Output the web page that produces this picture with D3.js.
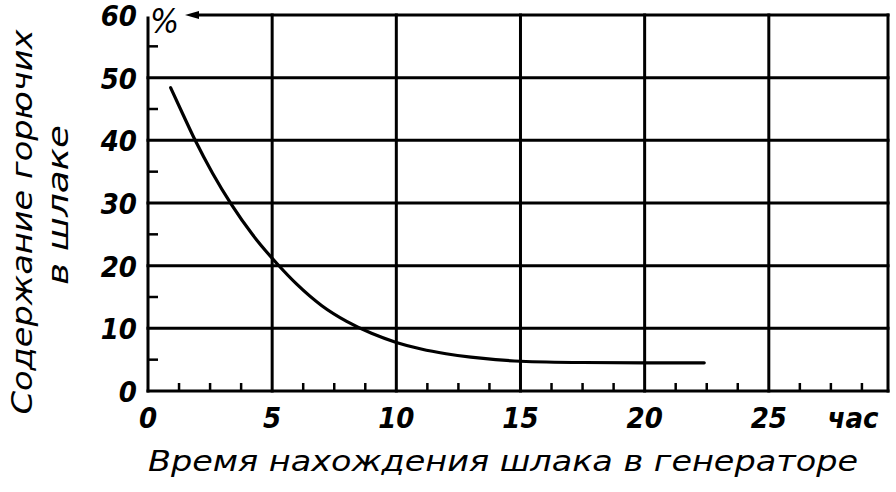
<!DOCTYPE html>
<html>
<head>
<meta charset="utf-8">
<script src="https://cdn.jsdelivr.net/npm/d3@7"></script>
<style>
  body { margin: 0; background: #fff; }
  svg { display: block; }
  .num { font-family: "DejaVu Sans Condensed", "DejaVu Sans", sans-serif; font-weight: bold; font-style: oblique; font-size: 29px; fill: #000; }
  .title { font-family: "DejaVu Sans Condensed", "DejaVu Sans", sans-serif; font-style: oblique; font-size: 29px; fill: #000; }
</style>
</head>
<body>
<script>
// values
var hours  = [0.91, 1.4, 1.9, 2.6, 3.37, 4.2, 5.2, 6, 7, 8, 9, 10, 11, 12, 13, 14, 15, 17.5, 20, 22.4];
var fuel   = [48.4, 44.2, 40, 34.75, 29.7, 25.0, 20.3, 17.0, 13.6, 11.1, 9.2, 7.75, 6.7, 5.95, 5.4, 5.0, 4.75, 4.55, 4.5, 4.5];
var xTicks = [0, 5, 10, 15, 20, 25];
var yTicks = [0, 10, 20, 30, 40, 50, 60];
var xMinor = d3.range(0, 29.8, 1.25);
var yMinor = d3.range(5, 60, 10);

var svg = d3.select("body")
  .append("svg")
    .attr("width", 896)
    .attr("height", 492);

var x = d3.scaleLinear().domain([0, 29.8]).range([148, 888]);
var y = d3.scaleLinear().domain([0, 60]).range([391, 15]);

var ink = "#000";

// grid
var grid = svg.append("g").attr("stroke", ink).attr("stroke-width", 3).attr("stroke-linecap", "square");
grid.selectAll(".v")
    .data(xTicks.slice(1).concat([29.8]))
  .enter().append("line")
    .attr("x1", function(d) { return x(d); })
    .attr("x2", function(d) { return x(d); })
    .attr("y1", y(60))
    .attr("y2", y(0));
grid.selectAll(".h")
    .data(yTicks.slice(1, 6))
  .enter().append("line")
    .attr("x1", x(0))
    .attr("x2", x(29.8))
    .attr("y1", function(d) { return y(d); })
    .attr("y2", function(d) { return y(d); });

// top line with left arrow
grid.append("line")
    .attr("x1", 196).attr("x2", x(29.8))
    .attr("y1", y(60)).attr("y2", y(60));
svg.append("path")
    .attr("d", "M185," + y(60) + "L199," + (y(60) - 4) + "L199," + (y(60) + 4) + "Z")
    .attr("fill", ink);

// axes lines
grid.append("line").attr("x1", x(0)).attr("x2", x(0)).attr("y1", 18).attr("y2", y(0));
grid.append("line").attr("x1", x(0)).attr("x2", x(29.8)).attr("y1", y(0)).attr("y2", y(0));

// minor ticks
var minor = svg.append("g").attr("stroke", ink).attr("stroke-width", 2.5);
minor.selectAll(".mx")
    .data(xMinor.filter(function(d) { return d % 5 !== 0; }))
  .enter().append("line")
    .attr("x1", function(d) { return x(d); })
    .attr("x2", function(d) { return x(d); })
    .attr("y1", y(0))
    .attr("y2", y(0) - 8);
minor.selectAll(".my")
    .data(yMinor)
  .enter().append("line")
    .attr("x1", x(0))
    .attr("x2", x(0) + 10)
    .attr("y1", function(d) { return y(d); })
    .attr("y2", function(d) { return y(d); });

// curve
var line = d3.line()
    .x(function(d, i) { return x(hours[i]); })
    .y(function(d, i) { return y(fuel[i]); })
    .curve(d3.curveMonotoneX);
svg.append("path")
    .datum(hours)
    .attr("d", line)
    .attr("fill", "none")
    .attr("stroke", ink)
    .attr("stroke-width", 3.2)
    .attr("stroke-linecap", "round");

// tick labels
svg.selectAll(".yl")
    .data(yTicks)
  .enter().append("text")
    .attr("class", "num")
    .attr("x", 137)
    .attr("y", function(d) { return y(d) + 11; })
    .attr("text-anchor", "end")
    .text(function(d) { return d; });

svg.selectAll(".xl")
    .data(xTicks)
  .enter().append("text")
    .attr("class", "num")
    .attr("x", function(d) { return x(d); })
    .attr("y", 428)
    .attr("text-anchor", "middle")
    .text(function(d) { return d; });

svg.append("text").attr("class", "num")
    .attr("x", 853).attr("y", 428).attr("text-anchor", "middle")
    .text("час");
svg.append("text").attr("class", "num")
    .attr("x", 150).attr("y", 33).style("font-weight", "normal").style("font-size", "34px")
    .text("%");

// axis titles
svg.append("text").attr("class", "title")
    .attr("x", 148).attr("y", 471)
    .attr("textLength", 710).attr("lengthAdjust", "spacingAndGlyphs")
    .text("Время нахождения шлака в генераторе");

svg.append("text").attr("class", "title")
    .attr("transform", "translate(32,222) rotate(-90)")
    .attr("text-anchor", "middle")
    .attr("textLength", 385).attr("lengthAdjust", "spacingAndGlyphs")
    .text("Содержание горючих");
svg.append("text").attr("class", "title")
    .attr("transform", "translate(68,205) rotate(-90)")
    .attr("text-anchor", "middle")
    .attr("textLength", 160).attr("lengthAdjust", "spacingAndGlyphs")
    .text("в шлаке");
</script>
</body>
</html>
